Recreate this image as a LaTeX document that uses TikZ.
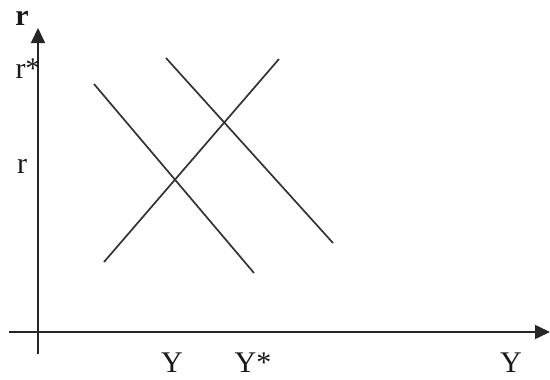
\documentclass[tikz,border=0pt]{standalone}
\usepackage{fontspec}
\setmainfont{Liberation Serif}
\usetikzlibrary{arrows.meta,positioning}
\tikzset{
  axis/.style={-{Triangle[length=15pt,width=14pt]}, line width=1.7pt, black!85},
  curve/.style={line width=1.7pt, black!80},
  lbl/.style={font=\fontsize{30}{30}\selectfont, inner sep=0pt, black!90}
}

\begin{document}
\begin{tikzpicture}[x=1pt,y=-1pt]
  \useasboundingbox (0,0) rectangle (550,380);
  % axes
  \coordinate (ybot) at (38,354);
  \coordinate (ytop) at (38,28);
  \coordinate (xleft) at (9,332);
  \coordinate (xright) at (550,332);
  \draw[axis] (ybot) -- (ytop);
  \draw[axis] (xleft) -- (xright);
  % IS and LM curves
  \coordinate (isa) at (94,84);   \coordinate (isb) at (254,273);
  \coordinate (isstara) at (166,58); \coordinate (isstarb) at (333,243);
  \coordinate (lma) at (104,262); \coordinate (lmb) at (279,59);
  \draw[curve] (isa) -- (isb);
  \draw[curve] (isstara) -- (isstarb);
  \draw[curve] (lma) -- (lmb);
  % labels
  \node[lbl] (raxis) at (22,18) {\textbf{r}};
  \node[lbl] (rstar) at (28,69) {r*};
  \node[lbl] (rlow) at (22,166) {r};
  \node[lbl] (ylow) at (172,363) {Y};
  \node[lbl] (ystar) at (253,363) {Y*};
  \node[lbl] (yaxis) at (511,363) {Y};
\end{tikzpicture}
\end{document}
